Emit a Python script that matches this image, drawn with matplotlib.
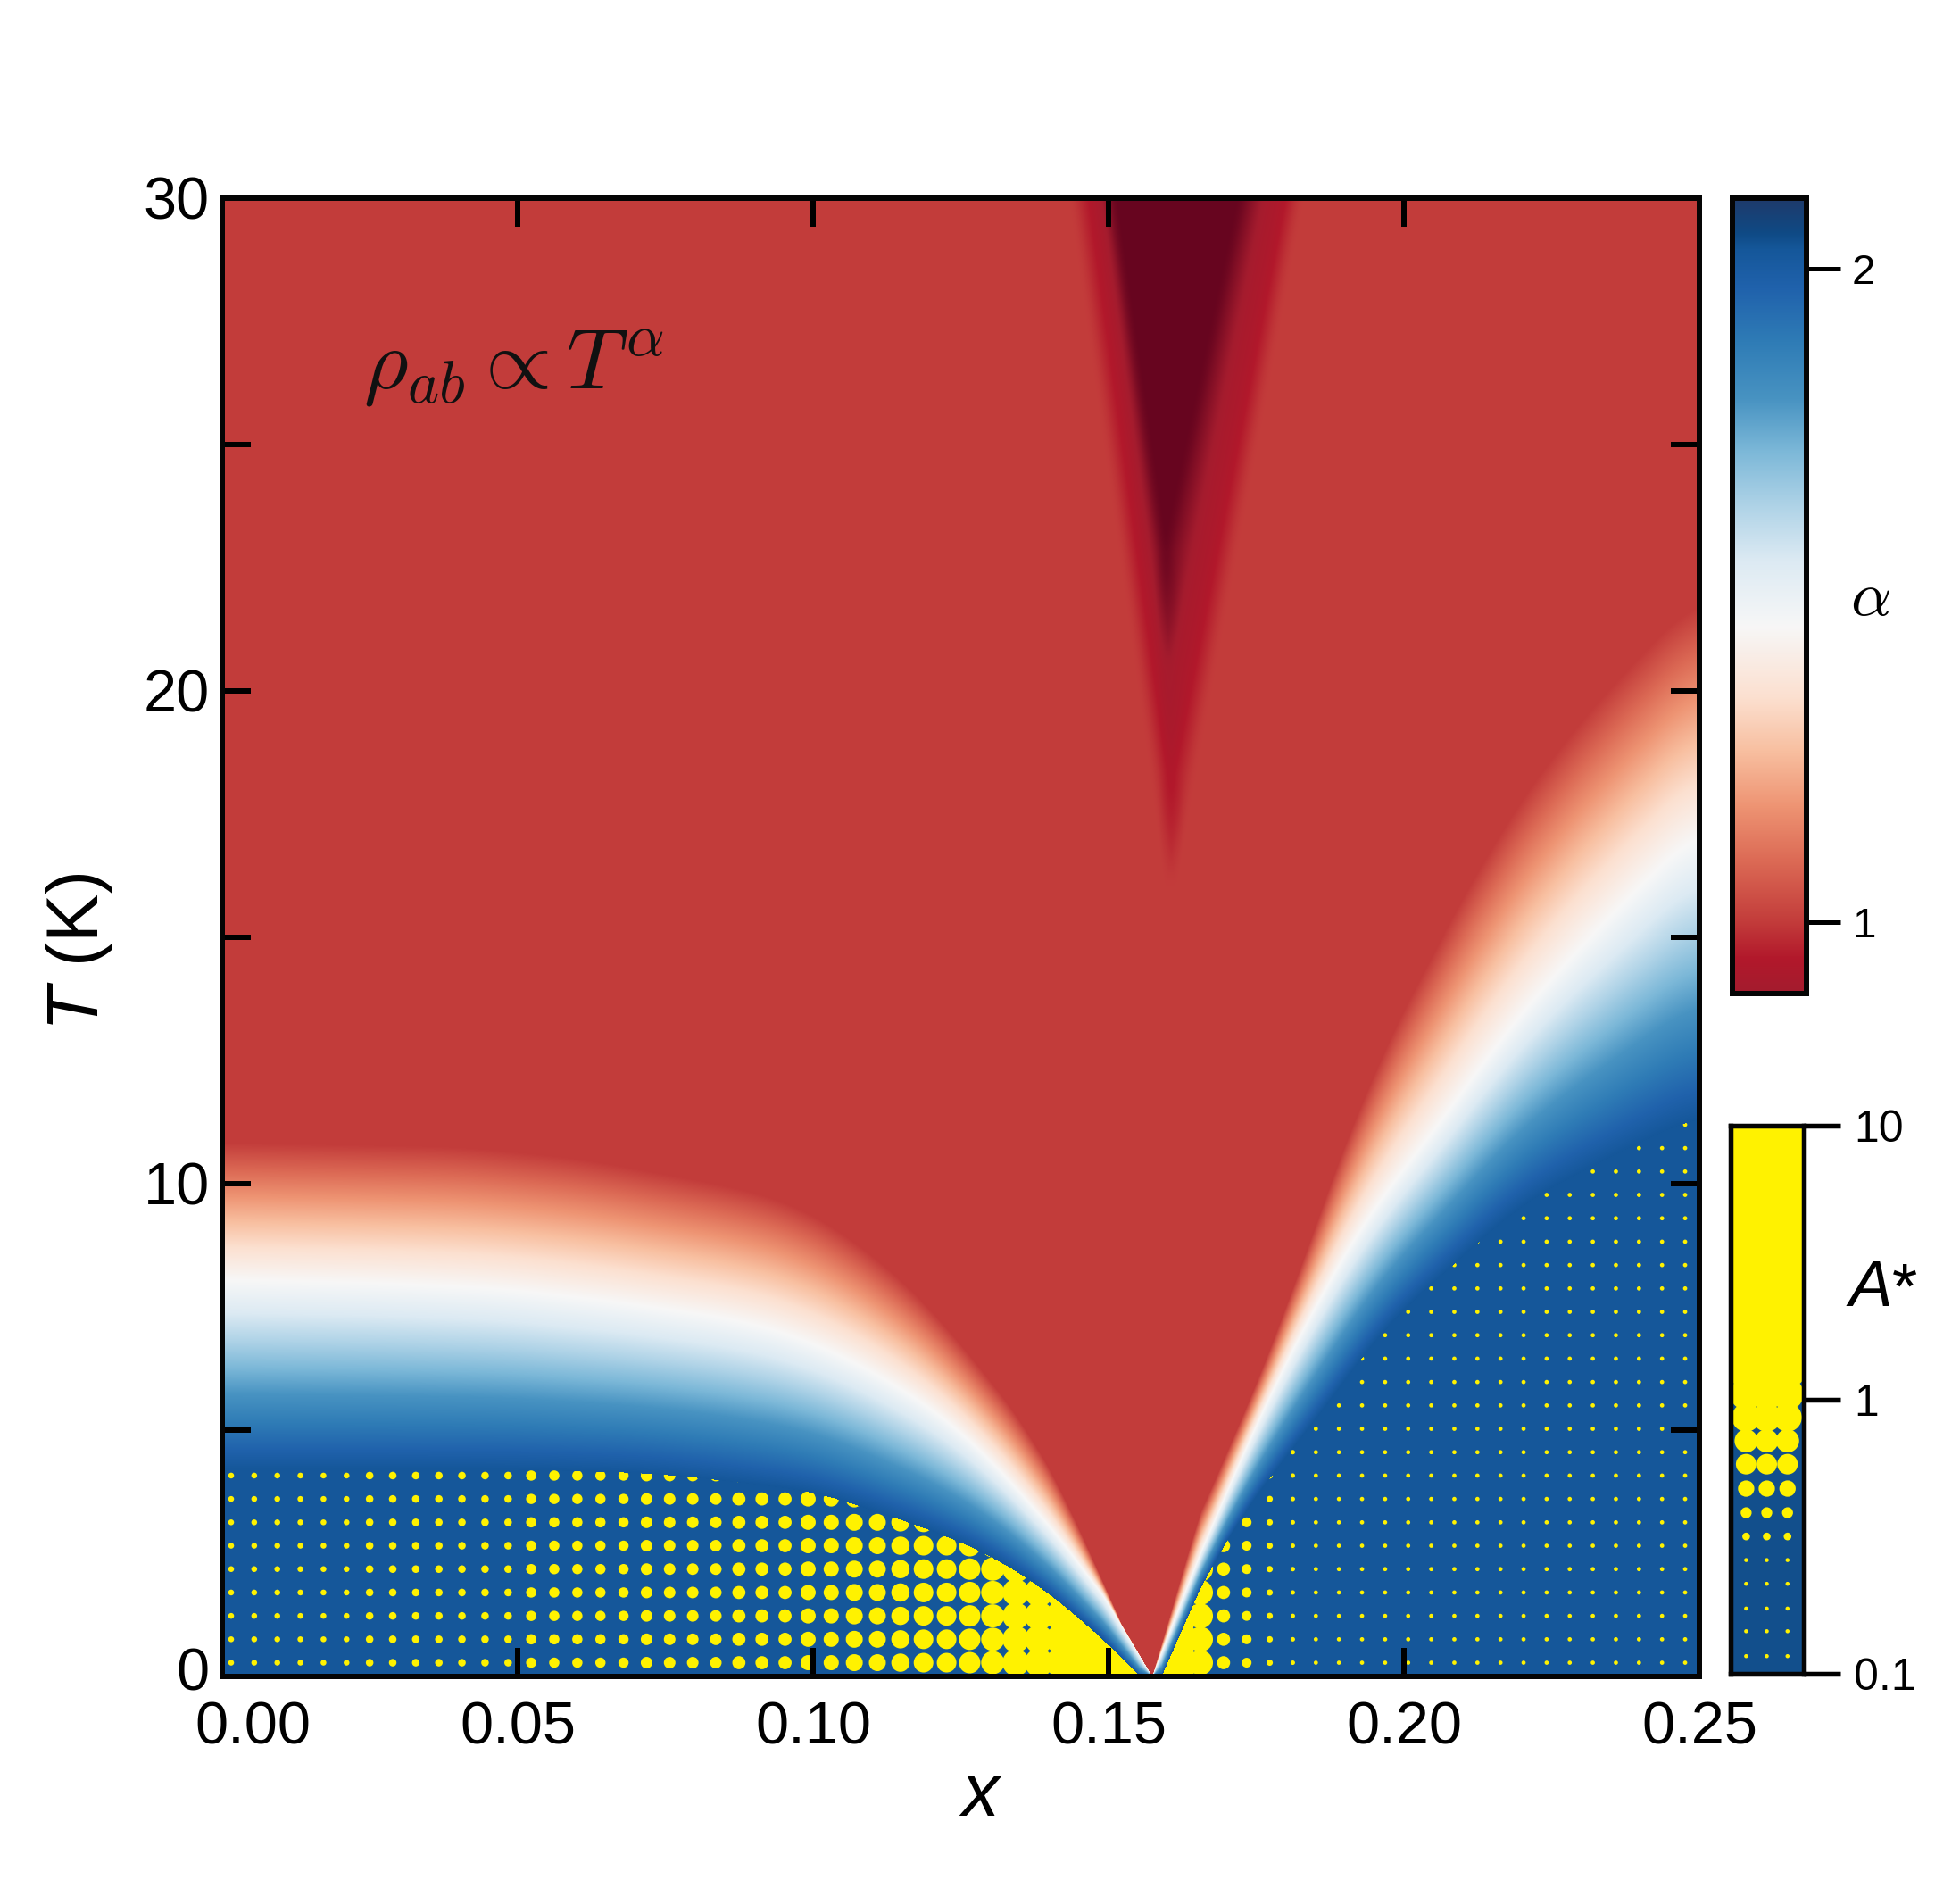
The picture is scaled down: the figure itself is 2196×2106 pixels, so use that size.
import numpy as np
import matplotlib
matplotlib.use("Agg")
import matplotlib.pyplot as plt
from matplotlib.colors import LinearSegmentedColormap, Normalize
from matplotlib.ticker import FixedLocator, FixedFormatter, NullLocator
from matplotlib.transforms import ScaledTranslation

plt.rcParams['font.family'] = ['Liberation Sans', 'DejaVu Sans']
plt.rcParams['mathtext.fontset'] = 'cm'
plt.rcParams['mathtext.it'] = 'Liberation Sans:italic'
plt.rcParams['mathtext.rm'] = 'Liberation Sans'

W, H, DPI = 2196, 2106, 300
PT = 72 / DPI

# --- curves: x, T where alpha reaches each level
x_blue = [0.0, 0.03, 0.05, 0.0717, 0.0833, 0.0991, 0.1038, 0.1071, 0.1206, 0.132, 0.1402, 0.1482, 0.1553, 0.159,
          0.1657, 0.1698, 0.1772, 0.1853, 0.1928, 0.1965, 0.2083, 0.2202, 0.2317, 0.2393, 0.25]
T_blue = [4.2, 4.2, 4.2, 4.13, 4.0, 3.77, 3.64, 3.48, 2.95, 2.35, 1.67, 0.85, 0.0, 0.0,
          1.83, 2.73, 4.07, 5.2, 6.48, 7.07, 8.35, 9.62, 10.34, 10.8, 11.4]
x_white = [0.0, 0.027, 0.0472, 0.0674, 0.0876, 0.0983, 0.1118, 0.1254, 0.1388, 0.149, 0.1574,
           0.166, 0.1772, 0.1860, 0.1948, 0.2025, 0.2142, 0.2242, 0.2369, 0.25]
T_white = [8.06, 7.99, 7.88, 7.6, 7.24, 6.87, 6.1, 4.98, 3.26, 1.67, 0.0,
           2.63, 5.72, 7.75, 9.56, 10.65, 12.6, 14.1, 15.67, 17.2]
x_red = [0.0, 0.0405, 0.0607, 0.0742, 0.0876, 0.0950, 0.1012, 0.1057, 0.1120, 0.1185, 0.132, 0.1388, 0.1455, 0.1522,
         0.1574, 0.1657, 0.1725, 0.1793, 0.1860, 0.1940, 0.2040, 0.2165, 0.2267, 0.2369, 0.25]
T_red = [10.83, 10.74, 10.5, 10.2, 9.9, 9.65, 9.3, 8.95, 8.35, 7.67, 5.72, 4.6, 2.88, 1.07,
         0.0, 3.4, 5.2, 7.15, 9.5, 12.06, 14.47, 17.17, 18.9, 20.3, 21.9]
alpha_blue, alpha_white, alpha_red = 2.03, 1.45, 1.0

# --- dark wedge at the top: apex temperature, apex x, left/right x at T = 30
wedge_alpha = [1.0, 0.93, 0.90, 0.78]
wedge_apex_T = [15.9, 18.3, 20.3, 22.8]
wedge_apex_x = [0.1605, 0.1605, 0.1600, 0.1595]
wedge_left = [0.1439, 0.1472, 0.1490, 0.1508]
wedge_right = [0.1825, 0.1795, 0.1762, 0.1723]

# --- colour scale
cmap_values = [0.78, 0.895, 0.942, 1.0, 1.092, 1.176, 1.26, 1.343, 1.452, 1.553, 1.636, 1.72, 1.80, 1.887, 1.97,
               2.03, 2.054, 2.108]
cmap_colors = ['#67051F', '#A51C2E', '#B2182B', '#C33D3B', '#DC6A55', '#EE9473', '#F8BFA0', '#FCE0D0', '#F7F7F7',
               '#DCEAF3', '#AFD3E7', '#7CB8D8', '#4893C2', '#2F7CB6', '#2062AC', '#15579A', '#0F4A85', '#1F3A6A']

# --- halftone dots: one diameter (px) per composition column
dot_x = [0.00151 + 0.003906 * k for k in range(64)]
dot_T = [0.28 + 0.4745 * j for j in range(25)]
dot_d = [6.5] * 6 + [8.5] * 7 + [11.5] * 5 + [13] * 4 + [14.7] * 3 + [17, 17, 19, 19, 20.5, 22, 22, 24, 26, 30, 32, 35.5]
dot_d += [44] * 5 + [28, 14.7, 11, 7, 5] + [4.7] * 17

# --- A* scale dots
a_rows = [0.116, 0.143, 0.173, 0.213, 0.260, 0.317, 0.387, 0.474, 0.582, 0.708, 0.862, 1.05, 1.29, 1.58,
          1.94, 2.4, 3.0, 3.7, 4.6, 5.7, 7.0, 8.6, 10.5]
a_dots = [4.5, 4.5, 4.5, 4.5, 4.5, 8.6, 12.3, 18.3, 23, 26, 32, 36, 42, 46, 50, 50, 50, 50, 50, 50, 50, 50, 50]
a_cols = [0.217, 0.497, 0.779]

BLUE = '#15579A'
YELLOW = '#FFF200'

cmap = LinearSegmentedColormap.from_list(
    'rho', [((v - cmap_values[0]) / (cmap_values[-1] - cmap_values[0]), c) for v, c in zip(cmap_values, cmap_colors)],
    N=1024)
norm = Normalize(cmap_values[0], cmap_values[-1])


def axes_px(left, top, right, bottom):
    return fig.add_axes([left / W, 1 - bottom / H, (right - left) / W, (bottom - top) / H])


def smooth(y, n=45):
    p = np.pad(y, n, mode='edge')
    return np.convolve(p, np.ones(2 * n + 1) / (2 * n + 1), mode='same')[n:-n]


fig = plt.figure(figsize=(W / DPI, H / DPI), dpi=DPI, facecolor='white')

# ------------------------------------------------------------ main panel
ax = axes_px(249, 221.5, 1904, 1878)
ax.set_facecolor(BLUE)

nx, nt = 1655, 1656
gx = (np.arange(nx) + 0.5) / nx * 0.25
gt = (np.arange(nt) + 0.5) / nt * 30
blend = np.clip((np.abs(gx - 0.1574) - 0.006) / 0.015, 0, 1)


def curve(xp, yp):
    raw = np.interp(gx, xp, yp)
    return (blend * smooth(raw) + (1 - blend) * raw)[None, :]


cb = curve(x_blue, T_blue)
cw = np.maximum(curve(x_white, T_white), cb)
cr = np.maximum(curve(x_red, T_red), cw)
tt = gt[:, None]
lower = alpha_blue + (alpha_white - alpha_blue) * (tt - cb) / np.maximum(cw - cb, 1e-3)
upper = alpha_white + (alpha_red - alpha_white) * (tt - cw) / np.maximum(cr - cw, 1e-3)
field = np.where(tt < cw, lower, upper)
field = np.clip(field, alpha_red, alpha_blue)

for i, T in enumerate(gt):
    if T <= wedge_apex_T[0]:
        continue
    lefts = [np.interp(T, [a, 30], [x0, x1]) for a, x0, x1 in zip(wedge_apex_T, wedge_apex_x, wedge_left)]
    rights = [np.interp(T, [a, 30], [x0, x1]) for a, x0, x1 in zip(wedge_apex_T, wedge_apex_x, wedge_right)]
    edges = np.maximum.accumulate(np.array(lefts + rights[::-1]))
    vals = wedge_alpha + wedge_alpha[::-1]
    prof = np.interp(gx, edges, vals, left=1.0, right=1.0)
    core = np.interp(T, wedge_apex_T, wedge_alpha)
    w = smooth(np.maximum(prof, core), 6)
    field[i] = np.where(w < 0.9995, w, field[i])

masked = np.ma.masked_where(tt < cb, field)

xx, yy = np.meshgrid(dot_x, dot_T)
sizes = np.tile((np.array(dot_d) * PT) ** 2, (len(dot_T), 1))
ax.scatter(xx.ravel(), yy.ravel(), s=sizes.ravel(), c=YELLOW, linewidths=0, zorder=1)
ax.imshow(masked, extent=(0, 0.25, 0, 30), origin='lower', aspect='auto', cmap=cmap, norm=norm,
          interpolation='nearest', zorder=1.5)

ax.set_xlim(0, 0.25)
ax.set_ylim(0, 30)
ax.set_axisbelow(False)
ax.set_xticks([0, 0.05, 0.10, 0.15, 0.20, 0.25])
ax.set_xticklabels(['0.00', '0.05', '0.10', '0.15', '0.20', '0.25'])
ax.set_yticks([0, 5, 10, 15, 20, 25, 30])
ax.set_yticklabels(['0', '', '10', '', '20', '', '30'])
ax.tick_params(axis='both', which='major', direction='in', top=True, right=True, length=32 * PT, width=6 * PT,
               labelsize=16, color='black')
ax.tick_params(axis='x', pad=27 * PT)
ax.tick_params(axis='y', pad=14 * PT)
for s in ax.spines.values():
    s.set_linewidth(6 * PT)
    s.set_color('#050505')
    s.set_zorder(3)

ax.get_xticklabels()[0].set_transform(ax.get_xticklabels()[0].get_transform()
                                      + ScaledTranslation(34 / DPI, 0, fig.dpi_scale_trans))
ax.get_yticklabels()[0].set_transform(ax.get_yticklabels()[0].get_transform()
                                      + ScaledTranslation(0, 9 / DPI, fig.dpi_scale_trans))

fig.text(1098 / W, 1 - 2012 / H, 'x', style='italic', fontsize=20, ha='center', va='center')
fig.text(89 / W, 1 - 1066 / H, r'$\mathit{T}$ (K)', fontsize=19.5, rotation=90, ha='center', va='center',
         math_fontfamily='custom')
fig.text(407 / W, 1 - 435 / H, r'$\rho_{ab}\propto T^{\alpha}$', fontsize=23, ha='left', va='baseline',
         color='#111111')

# ------------------------------------------------------------ alpha scale
cax = axes_px(1941, 222, 2024, 1112.5)
grad = np.linspace(2.108, 0.891, 800)[:, None]
cax.imshow(grad, extent=(0, 1, 0.891, 2.108), aspect='auto', cmap=cmap, norm=norm, interpolation='bilinear')
cax.set_xlim(0, 1)
cax.set_ylim(0.891, 2.108)
cax.set_xticks([])
cax.yaxis.tick_right()
cax.set_yticks([1, 2])
cax.set_yticklabels(['1', '2'])
cax.tick_params(axis='y', length=38 * PT, width=5 * PT, labelsize=11.4, pad=13 * PT)
for s in cax.spines.values():
    s.set_linewidth(6 * PT)
    s.set_color('#050505')
fig.text(2095 / W, 1 - 671 / H, r'$\alpha$', fontsize=17, ha='center', va='center')

# ------------------------------------------------------------ A* scale
dax = axes_px(1938.5, 1261, 2021, 1875)
dax.set_facecolor('#124F8C')
dax.set_yscale('log')
dax.set_xlim(0, 1)
dax.set_ylim(0.1, 10)
ax_x, ax_y = np.meshgrid(a_cols, a_rows)
ds = np.tile((np.array(a_dots) * PT) ** 2, (len(a_cols), 1)).T
dax.scatter(ax_x.ravel(), ax_y.ravel(), s=ds.ravel(), c=YELLOW, linewidths=0, zorder=1)
dax.set_xticks([])
dax.yaxis.tick_right()
dax.yaxis.set_major_locator(FixedLocator([0.1, 1, 10]))
dax.yaxis.set_major_formatter(FixedFormatter(['0.1', '1', '10']))
dax.yaxis.set_minor_locator(NullLocator())
dax.tick_params(axis='y', length=41 * PT, width=5.5 * PT, labelsize=12, pad=15 * PT)
for s in dax.spines.values():
    s.set_linewidth(5.5 * PT)
    s.set_color('#050505')
fig.text(2072 / W, 1 - 1463 / H, 'A', style='italic', fontsize=17.5, ha='left', va='baseline')
fig.text(2120 / W, 1 - 1466 / H, '*', fontsize=17.5, ha='left', va='baseline')

fig.savefig('out.png', dpi=DPI, facecolor='white')
